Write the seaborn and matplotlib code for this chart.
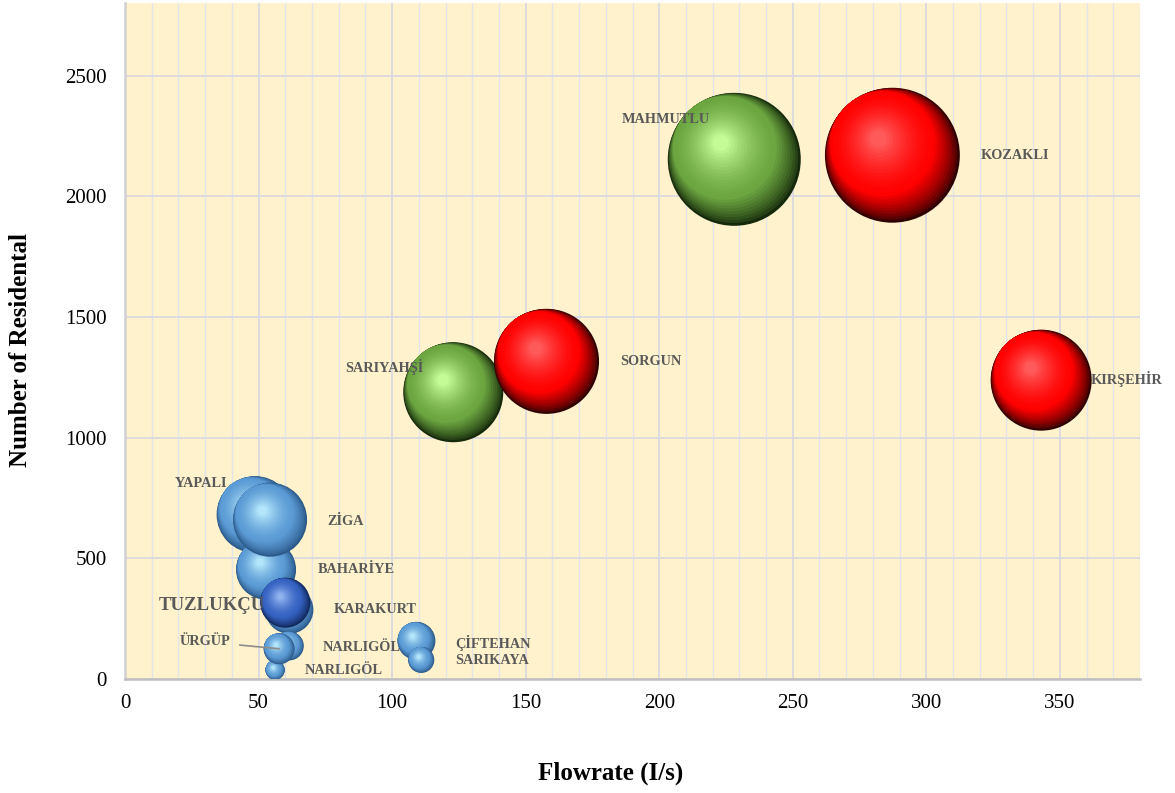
import numpy as np
import pandas as pd
import seaborn as sns
import matplotlib.pyplot as plt
from matplotlib.colors import to_rgb, to_hex

# values (drawing order: first = bottom)
names = ['YAPALI', 'BAHARİYE', 'ZİGA', 'KARAKURT', 'TUZLUKÇU', 'NARLIGÖL', 'NARLIGÖL',
         'ÜRGÜP', 'ÇİFTEHAN', 'SARIKAYA', 'SARIYAHŞİ', 'SORGUN', 'MAHMUTLU', 'KOZAKLI', 'KIRŞEHİR']
flowrate = [48.7, 52.8, 54.3, 61.5, 60.0, 61.5, 56.2, 57.7, 109.1, 110.9,
            122.9, 157.8, 228.1, 287.3, 343.0]
residental = [681, 453, 660, 287, 316, 137, 37, 125, 158, 79,
              1188, 1316, 2153, 2170, 1238]
bubble = [1480, 900, 1370, 580, 625, 210, 95, 240, 360, 170,
          2500, 2760, 4420, 4550, 2550]
group = ['blue', 'blue', 'blue', 'blue', 'navy', 'blue', 'blue', 'blue', 'blue', 'blue',
         'green', 'red', 'green', 'red', 'red']

# dark / base / highlight colours for the sphere shading
shades = {
    'red': ('#300000', '#ff0000', '#ff5a5a'),
    'green': ('#15290b', '#6ca640', '#c4fb96'),
    'blue': ('#2a5888', '#5b9bd5', '#b4e6fb'),
    'navy': ('#102658', '#3562c2', '#8fb1ee'),
}

# label offsets in pixels from the bubble centre (dx, dy)
label_offsets = {
    0: (-80, 31), 1: (52, 0), 2: (57, -2), 3: (44, 0), 4: (-127, -3),
    5: (33, -2), 6: (30, 0), 7: (-99, 7), 8: (39, -2), 9: (34, -1),
    10: (-108, 25), 11: (74, 0), 12: (-113, 40), 13: (88, 0), 14: (50, 1),
}

XMAX, YMAX = 380, 2800
DPI = 100


def mix(c1, c2, t):
    a, b = np.array(to_rgb(c1)), np.array(to_rgb(c2))
    return to_hex(a + (b - a) * t)


sns.set_theme(style='white')
plt.rcParams['font.family'] = ['Liberation Serif', 'DejaVu Serif']

fig = plt.figure(figsize=(11.75, 7.93), dpi=DPI)
ax = fig.add_axes([0.1064, 0.1438, 0.8638, 0.8522])
ax.set_facecolor('#fff2cc')
ax.set_xlim(0, XMAX)
ax.set_ylim(0, YMAX)

# pixels per data unit, used to shift the shading layers
px_x = 0.8638 * 1175 / XMAX
px_y = 0.8522 * 793 / YMAX
k_size = (2 * 72 / DPI) ** 2  # bubble value -> marker area (radius in px = sqrt(value))

# shading layers: (scale of radius, shift as fraction of radius, colour position)
direction = np.array([-0.64, 0.77])
layers = []
n_rim, n_glow = 10, 16
for j in range(n_rim):
    # dark crescent on the lower right: circles touching the upper-left edge
    s = 1 - 0.22 * j / (n_rim - 1)
    layers.append((s, 1 - s, 'rim', (j / (n_rim - 1)) ** 0.75))
for j in range(1, n_glow):
    t = j / (n_glow - 1)
    s = 0.78 - 0.66 * t
    layers.append((s, 0.22 + 0.1 * t, 'glow', t ** 1.5))

rows = []
for i in range(len(names)):
    dark, base, light = shades[group[i]]
    r = np.sqrt(bubble[i])
    for s, f, kind, t in layers:
        col = mix(dark, base, t) if kind == 'rim' else mix(base, light, t)
        shift = f * r * direction
        rows.append({
            'x': flowrate[i] + shift[0] / px_x,
            'y': residental[i] + shift[1] / px_y,
            's': bubble[i] * k_size * s ** 2,
            'color': col,
        })
df = pd.DataFrame(rows)
smax = df['s'].max()

sns.scatterplot(data=df, x='x', y='y', hue='color',
                palette={c: c for c in df['color'].unique()},
                size='s', sizes=(0, smax), size_norm=(0, smax),
                linewidth=0, legend=False, ax=ax, zorder=3)

for i, name in enumerate(names):
    dx, dy = label_offsets[i]
    big = name == 'TUZLUKÇU'
    kw = dict(textcoords='offset pixels', ha='left', va='center',
              fontsize=13.5 if big else 10.3, fontweight='bold',
              color='#595959', zorder=10, annotation_clip=False)
    if name == 'ÜRGÜP':
        kw['arrowprops'] = dict(arrowstyle='-', color='#8c8c8c', lw=1.2,
                                shrinkA=4, shrinkB=0)
    ax.annotate(name, xy=(flowrate[i], residental[i]), xytext=(dx, dy), **kw)

ax.set_xticks(np.arange(0, 351, 50))
ax.set_xticks(np.arange(0, XMAX + 1, 10), minor=True)
ax.set_yticks(np.arange(0, 2501, 500))
ax.set_axisbelow(True)
ax.grid(which='major', color='#d9dae2', lw=1.3)
ax.grid(which='minor', axis='x', color='#e3e4ea', lw=1.0)
ax.tick_params(which='both', length=0, labelsize=15, colors='black')
ax.tick_params(axis='x', pad=11)
ax.tick_params(axis='y', pad=13)

for side in ['top', 'right']:
    ax.spines[side].set_visible(False)
ax.spines['bottom'].set_color('#bfbfbf')
ax.spines['bottom'].set_linewidth(1.8)
ax.spines['left'].set_color('#d0d0d0')
ax.spines['left'].set_linewidth(1.8)

ax.set_xlabel('Flowrate (I/s)', fontsize=18, fontweight='bold', color='black')
ax.set_ylabel('Number of Residental', fontsize=18, fontweight='bold', color='black')
ax.xaxis.set_label_coords(0.478, -0.122)
ax.yaxis.set_label_coords(-0.092, 0.487)

fig.savefig('out.png', dpi=DPI)
